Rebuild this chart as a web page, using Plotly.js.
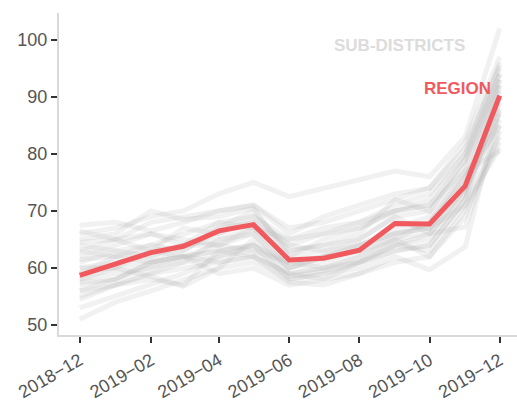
<!DOCTYPE html>
<html>
<head>
<meta charset="utf-8">
<script src="https://cdn.plot.ly/plotly-3.0.1.min.js"></script>
<style>html,body{margin:0;padding:0;background:#fff;}#chart{width:517px;height:401px;}</style>
</head>
<body>
<div id="chart"></div>
<script>
const months = ["2018-12-01","2019-01-01","2019-02-01","2019-03-01","2019-04-01","2019-05-01","2019-06-01","2019-07-01","2019-08-01","2019-09-01","2019-10-01","2019-11-01","2019-12-01"];
const tickDates = ["2018-12-01","2019-02-01","2019-04-01","2019-06-01","2019-08-01","2019-10-01","2019-12-01"];
const tickLabels = ["2018\u221212","2019\u221202","2019\u221204","2019\u221206","2019\u221208","2019\u221210","2019\u221212"];

const region = [58.7, 60.8, 62.7, 63.8, 66.5, 67.6, 61.4, 61.7, 63.1, 67.8, 67.7, 74.4, 90.2];

const subDistricts = [
  [66, 67, 69, 70, 73, 75, 72.5, 74, 75.5, 77, 76, 83, 102],
  [67.5, 68, 66.5, 68, 70, 71, 66, 69, 71, 73, 74, 82, 97],
  [65, 66, 70, 68.5, 69, 70.5, 62, 65, 67, 70, 72, 80, 96],
  [63, 62, 61, 63, 67, 70, 63, 64, 66, 72, 70, 79, 95],
  [61, 63, 64, 66, 68, 69, 65, 66, 68, 70, 71, 77, 94],
  [60, 60, 61, 62, 64, 66, 60, 62, 64, 66, 68, 75, 93],
  [59, 60, 58.5, 56.8, 60, 65, 59, 60, 62, 65, 66, 73, 92],
  [58, 59, 60, 61, 65, 67, 61, 62, 63, 68, 67, 74, 91],
  [57, 58, 61, 62, 63, 64, 58, 59, 60, 63, 64, 72, 90],
  [56, 57, 58, 57, 63, 62, 57.5, 57, 59, 62, 59.7, 63.7, 88],
  [54.5, 57, 59, 60, 61, 62, 59, 58, 61, 64, 65, 73, 89],
  [53, 55, 57, 59, 62, 64, 60, 61, 63, 66, 67, 76, 87],
  [51, 54, 56, 58, 60, 61, 58, 59, 61, 64, 66, 74, 86],
  [62, 64, 66, 65, 64, 63, 61, 62, 64, 67, 69, 76, 85],
  [64, 63, 62, 64, 66, 68, 64, 63, 65, 69, 66, 67.2, 84],
  [66.5, 65, 63, 62, 61, 62, 59, 60, 61, 64, 63, 71, 83],
  [57.5, 58, 61, 62, 59, 60, 57, 58, 59, 61, 62, 70, 82],
  [60, 61, 62, 64, 64, 67, 62, 63, 64, 66, 67, 71, 81],
  [58, 60, 63, 64, 65, 66, 60, 62, 63, 65, 68, 77, 80.5],
  [56, 58, 60, 62, 63, 64, 61, 60, 62, 65, 62, 69, 85],
  [59, 62, 64, 63, 67, 68, 63, 64, 65, 69, 70, 78, 92],
  [61.5, 62, 63, 67, 66, 69, 64, 66, 67, 70, 71, 79, 93],
  [63, 65, 66, 64, 68, 67, 65, 67, 68, 71, 73, 80, 94],
  [55, 57, 59, 61, 62, 63, 58.5, 59.5, 61, 63, 64, 72, 87.5],
  [64.5, 65, 68, 69, 70, 71, 67, 68, 70, 72, 74, 81, 95.5]
];

const traces = subDistricts.map(vals => ({
  x: months, y: vals, type: "scatter", mode: "lines",
  line: {color: "rgba(176,176,176,0.18)", width: 5},
  hoverinfo: "skip"
}));
traces.push({
  x: months, y: region, type: "scatter", mode: "lines",
  line: {color: "#f05a5f", width: 5}, hoverinfo: "skip"
});

const layout = {
  width: 517, height: 401,
  margin: {l: 59, r: 0, t: 13, b: 66},
  paper_bgcolor: "#fff", plot_bgcolor: "#fff",
  showlegend: false,
  font: {family: "Liberation Sans, Arial, sans-serif", color: "#555", size: 18},
  xaxis: {
    type: "date",
    range: ["2018-11-13", "2019-12-16"],
    tickvals: tickDates, ticktext: tickLabels,
    tickangle: -30,
    showgrid: false, zeroline: false,
    showline: true, linecolor: "#d9d9d9", linewidth: 2,
    ticks: "outside", ticklen: 6, tickwidth: 2, tickcolor: "#333",
    tickfont: {size: 18, color: "#555"}
  },
  yaxis: {
    range: [48.25, 104.7],
    tickvals: [50, 60, 70, 80, 90, 100],
    showgrid: false, zeroline: false,
    showline: true, linecolor: "#d9d9d9", linewidth: 2,
    ticks: "outside", ticklen: 6, tickwidth: 2, tickcolor: "#333",
    tickfont: {size: 18, color: "#555"}
  },
  annotations: [
    {x: "2019-09-05", xref: "x", y: 99.0, yref: "y", text: "<b>SUB-DISTRICTS</b>", showarrow: false,
     font: {size: 17, color: "#dcdcdc"}},
    {x: "2019-11-25", xref: "x", xanchor: "right", y: 91.5, yref: "y", text: "<b>REGION</b>", showarrow: false,
     font: {size: 17, color: "#f05a5f"}}
  ]
};

Plotly.newPlot("chart", traces, layout, {staticPlot: true, displayModeBar: false});
</script>
</body>
</html>
